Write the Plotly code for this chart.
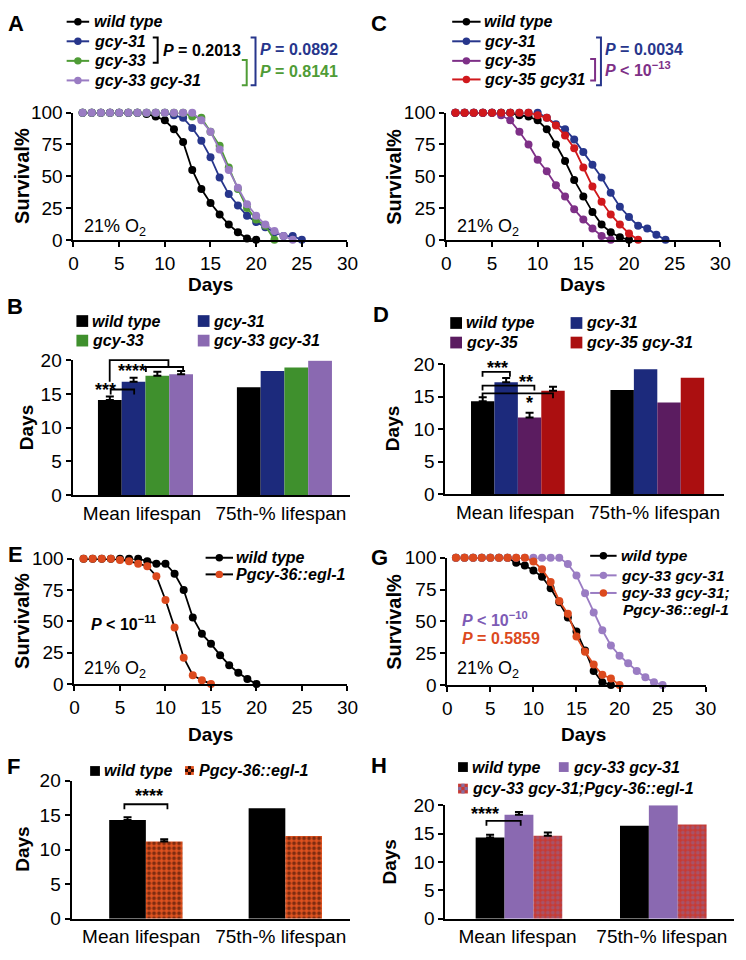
import plotly.graph_objects as go

W, H = 746, 960
FONT = "Arial, 'Liberation Sans', sans-serif"

# ---------------- data ----------------
# Panel A  (survival %, by day)
a_days_wt = [1, 2, 3, 4, 5, 6, 7, 8, 9, 10, 11, 12, 13, 14, 15, 16, 17, 18, 19, 20]
a_wt = [100, 100, 100, 100, 100, 100, 100, 99, 97, 94, 87, 77, 55, 40, 29, 20, 12, 6, 1, 0]
a_days_31 = [1, 2, 3, 4, 5, 6, 7, 8, 9, 10, 11, 12, 13, 14, 15, 16, 17, 18, 19, 20, 21, 22, 23, 24, 25]
a_31 = [100, 100, 100, 100, 100, 100, 100, 100, 100, 100, 98, 96, 88, 78, 65, 49, 36, 27, 19, 14, 10, 6, 3, 3, 0]
a_days_33 = [1, 2, 3, 4, 5, 6, 7, 8, 9, 10, 11, 12, 13, 14, 15, 16, 17, 18, 19, 20, 21, 22]
a_33 = [100, 100, 100, 100, 100, 100, 100, 100, 100, 100, 100, 100, 97, 96, 85, 74, 57, 40, 25, 16, 11, 0]
a_days_dbl = [1, 2, 3, 4, 5, 6, 7, 8, 9, 10, 11, 12, 13, 14, 15, 16, 17, 18, 19, 20, 21, 22, 23, 24]
a_dbl = [100, 100, 100, 100, 100, 100, 100, 100, 100, 100, 100, 100, 100, 94, 85, 71, 55, 41, 28, 19, 12, 7, 3, 0]

# Panel C
c_days_wt = [1, 2, 3, 4, 5, 6, 7, 8, 9, 10, 11, 12, 13, 14, 15, 16, 17, 18, 19, 20]
c_wt = [100, 100, 100, 100, 100, 100, 100, 98, 97, 94, 87, 75, 62, 47, 34, 22, 12, 6, 2, 0]
c_days_31 = [1, 2, 3, 4, 5, 6, 7, 8, 9, 10, 11, 12, 13, 14, 15, 16, 17, 18, 19, 20, 21, 22, 23, 24]
c_31 = [100, 100, 100, 100, 100, 100, 100, 100, 100, 100, 96, 91, 87, 79, 69, 59, 49, 37, 26, 18, 11, 9, 4, 0]
c_days_35 = [1, 2, 3, 4, 5, 6, 7, 8, 9, 10, 11, 12, 13, 14, 15, 16, 17, 18]
c_35 = [100, 100, 100, 100, 100, 98, 94, 85, 75, 63, 54, 43, 34, 24, 16, 9, 3, 0]
c_days_dbl = [1, 2, 3, 4, 5, 6, 7, 8, 9, 10, 11, 12, 13, 14, 15, 16, 17, 18, 19, 20, 21]
c_dbl = [100, 100, 100, 100, 100, 100, 100, 100, 100, 98, 96, 90, 82, 72, 57, 42, 30, 20, 12, 5, 0]

# Panel E
e_days_wt = [1, 2, 3, 4, 5, 6, 7, 8, 9, 10, 11, 12, 13, 14, 15, 16, 17, 18, 19, 20]
e_wt = [100, 100, 100, 100, 100, 100, 100, 98, 96, 96, 88, 75, 53, 40, 32, 23, 15, 9, 4, 0]
e_days_egl = [1, 2, 3, 4, 5, 6, 7, 8, 9, 10, 11, 12, 13, 14, 15]
e_egl = [100, 100, 100, 100, 99, 98, 96, 94, 86, 67, 45, 21, 7, 3, 0]

# Panel G
g_days_wt = [1, 2, 3, 4, 5, 6, 7, 8, 9, 10, 11, 12, 13, 14, 15, 16, 17, 18, 19]
g_wt = [100, 100, 100, 100, 100, 100, 100, 96, 94, 90, 85, 76, 65, 53, 42, 27, 11, 2, 0]
g_days_dbl = [1, 2, 3, 4, 5, 6, 7, 8, 9, 10, 11, 12, 13, 14, 15, 16, 17, 18, 19, 20, 21, 22, 23, 24, 25]
g_dbl = [100, 100, 100, 100, 100, 100, 100, 100, 100, 100, 100, 100, 100, 95, 86, 72, 57, 43, 31, 23, 17, 11, 6, 2, 0]
g_days_egl = [1, 2, 3, 4, 5, 6, 7, 8, 9, 10, 11, 12, 13, 14, 15, 16, 17, 18, 19, 20]
g_egl = [100, 100, 100, 100, 100, 100, 100, 100, 100, 97, 91, 81, 66, 56, 38, 26, 16, 8, 5, 0]

# Bar panels: [mean lifespan, 75th-% lifespan]; error only on the mean
bar_cats = ["Mean lifespan", "75th-% lifespan"]
b_wt, b_31, b_33, b_dbl = [14.1, 16.0], [16.8, 18.4], [17.7, 18.9], [17.9, 19.9]
b_err = [0.5, 0.6, 0.6, 0.5]
d_wt, d_31, d_35, d_dbl = [14.3, 16.0], [17.2, 19.2], [11.8, 14.1], [15.9, 17.9]
d_err = [0.6, 0.65, 0.7, 0.6]
f_wt, f_egl = [14.3, 16.0], [11.2, 12.0]
f_err = [0.4, 0.3]
h_wt, h_dbl, h_egl = [14.3, 16.4], [18.3, 20.0], [14.6, 16.6]
h_err = [0.5, 0.5, 0.6]

surv_ticks_x = [0, 5, 10, 15, 20, 25, 30]
surv_ticks_y = [0, 25, 50, 75, 100]
bar_ticks_y = [0, 5, 10, 15, 20]

# ---------------- colours ----------------
BLACK = "#000000"
BLUE = "#27368c"
GREEN = "#4f9c36"
LAV = "#9a7cc3"
MAG = "#7e3087"
RED = "#d0181c"
ORANGE = "#dc4a1e"
BAR_BLUE = "#1c2a7c"
BAR_GREEN = "#3f902d"
BAR_LAV = "#8a69b1"
BAR_MAG = "#5b1c60"
BAR_RED = "#ab0f10"

# ---------------- helpers ----------------
def P(x):
    return x / W


def Q(y):
    return 1 - y / H


shapes = []
annotations = []


def txt(x, y, s, size=16, color=BLACK, anchor="left", angle=0):
    annotations.append(dict(x=P(x), y=Q(y), xref="paper", yref="paper", text=s,
                            showarrow=False, xanchor=anchor, yanchor="middle",
                            textangle=angle,
                            font=dict(family=FONT, size=size, color=color)))


def seg(x0, y0, x1, y1, color=BLACK, w=2):
    shapes.append(dict(type="line", xref="paper", yref="paper",
                       x0=P(x0), y0=Q(y0), x1=P(x1), y1=Q(y1),
                       line=dict(color=color, width=w)))


def poly(pts, color=BLACK, w=2):
    d = "M " + " L ".join(f"{P(x)},{Q(y)}" for x, y in pts)
    shapes.append(dict(type="path", xref="paper", yref="paper", path=d,
                       line=dict(color=color, width=w)))


def dot(cx, cy, r, color):
    shapes.append(dict(type="circle", xref="paper", yref="paper",
                       x0=P(cx - r), x1=P(cx + r), y0=Q(cy + r), y1=Q(cy - r),
                       fillcolor=color, line=dict(width=0)))


def box(x0, y0, x1, y1, color):
    shapes.append(dict(type="rect", xref="paper", yref="paper",
                       x0=P(x0), x1=P(x1), y0=Q(y1), y1=Q(y0),
                       fillcolor=color, line=dict(width=0)))


def checker_box(x0, y0, x1, y1, bg, fg):
    box(x0, y0, x1, y1, bg)
    step = (x1 - x0) / 3.0
    for i in range(3):
        for j in range(3):
            if (i + j) % 2 == 1:
                box(x0 + i * step, y0 + j * step, x0 + (i + 1) * step, y0 + (j + 1) * step, fg)


def leg_line(x0, x1, y, lcolor, mcolor):
    seg(x0, y, x1, y, lcolor, 2)
    dot((x0 + x1) / 2, y, 3.8, mcolor)


def bracket_right(x, y0, y1, color, arm=5):
    poly([(x - arm, y0), (x, y0), (x, y1), (x - arm, y1)], color, 2)


def bracket_down(x0, x1, y, drop=5):
    poly([(x0, y + drop), (x0, y), (x1, y), (x1, y + drop)], BLACK, 1.8)


def stars(x, y, s):
    txt(x, y + 4, "<b>" + s + "</b>", size=18, anchor="center")


layout = dict(width=W, height=H, margin=dict(l=0, r=0, t=0, b=0),
              paper_bgcolor="white", plot_bgcolor="white", showlegend=False,
              barmode="overlay")

TICKFONT = dict(family=FONT, size=19, color=BLACK)
AX = dict(showline=True, linecolor=BLACK, linewidth=2, ticks="outside",
          ticklen=5, tickwidth=2, tickcolor=BLACK, showgrid=False,
          zeroline=False, tickfont=TICKFONT, fixedrange=True)


def axname(n):
    return ("xaxis", "yaxis") if n == 1 else (f"xaxis{n}", f"yaxis{n}")


def ref(n):
    return ("x", "y") if n == 1 else (f"x{n}", f"y{n}")


def surv_axes(n, x0, x1, y0, y1):
    xa, ya = axname(n)
    xr, yr = ref(n)
    layout[xa] = dict(AX, domain=[P(x0), P(x1)], range=[0, 30],
                      tickvals=surv_ticks_x, anchor=yr)
    layout[ya] = dict(AX, domain=[Q(y1), Q(y0)], range=[0, 100],
                      tickvals=surv_ticks_y, anchor=xr)


def bar_axes(n, x0, x1, y0, y1):
    xa, ya = axname(n)
    xr, yr = ref(n)
    layout[xa] = dict(AX, domain=[P(x0), P(x1)], type="category",
                      categoryorder="array", categoryarray=bar_cats,
                      range=[-0.5, 1.5], ticks="", anchor=yr,
                      tickfont=dict(family=FONT, size=19, color=BLACK))
    layout[ya] = dict(AX, domain=[Q(y1), Q(y0)], range=[0, 20],
                      tickvals=bar_ticks_y, anchor=xr)


traces = []


def curve(n, xs, ys, lcolor, mcolor):
    xr, yr = ref(n)
    traces.append(go.Scatter(x=xs, y=ys, xaxis=xr, yaxis=yr, mode="lines+markers",
                             line=dict(color=lcolor, width=1.8),
                             marker=dict(size=8, color=mcolor, line=dict(width=0)),
                             cliponaxis=False, showlegend=False, hoverinfo="skip"))


def bars(n, ys, err, color, offset, width, pattern=None):
    xr, yr = ref(n)
    marker = dict(color=color, line=dict(width=0))
    if pattern is not None:
        marker["pattern"] = pattern
    # mean lifespan bar, with its upward error bar
    traces.append(go.Bar(x=bar_cats[:1], y=ys[:1], xaxis=xr, yaxis=yr, width=width,
                         offset=offset, marker=marker,
                         error_y=dict(type="data", symmetric=False,
                                      array=[err], arrayminus=[0],
                                      color=BLACK, thickness=2, width=4),
                         showlegend=False, hoverinfo="skip"))
    # 75th-% lifespan bar (no error bar)
    traces.append(go.Bar(x=bar_cats[1:], y=ys[1:], xaxis=xr, yaxis=yr, width=width,
                         offset=offset, marker=marker,
                         showlegend=False, hoverinfo="skip"))


# ---------------- panel A ----------------
surv_axes(1, 70, 350, 105, 235)
curve(1, a_days_wt, a_wt, BLACK, BLACK)
curve(1, a_days_31, a_31, BLUE, BLUE)
curve(1, a_days_33, a_33, GREEN, GREEN)
curve(1, a_days_dbl, a_dbl, LAV, LAV)
txt(1, 14, "<b>A</b>", size=22)
for name, col, yy in [("wild type", BLACK, 12), ("gcy-31", BLUE, 32),
                      ("gcy-33", GREEN, 52), ("gcy-33 gcy-31", LAV, 72)]:
    leg_line(63, 86, yy, col, col)
    txt(89, yy, f"<b><i>{name}</i></b>", size=16)
bracket_right(156, 28, 54, BLACK)
txt(159, 41, "<b><i>P</i> = 0.2013</b>", size=16)
bracket_right(247, 51, 77, GREEN)
bracket_right(256, 28, 77, BLUE)
txt(259, 40, "<b><i>P</i> = 0.0892</b>", size=16, color=BLUE)
txt(259, 63, "<b><i>P</i> = 0.8141</b>", size=16, color=GREEN)
txt(79, 222, "21% O<sub>2</sub>", size=18)
txt(18, 170, "<b>Survival%</b>", size=20, anchor="center", angle=-90)
txt(210, 281, "<b>Days</b>", size=19, anchor="center")

# ---------------- panel C ----------------
surv_axes(3, 451, 731, 105, 235)
curve(3, c_days_wt, c_wt, BLACK, BLACK)
curve(3, c_days_31, c_31, BLUE, BLUE)
curve(3, c_days_35, c_35, MAG, MAG)
curve(3, c_days_dbl, c_dbl, RED, RED)
txt(372, 14, "<b>C</b>", size=22)
for name, col, yy in [("wild type", BLACK, 12), ("gcy-31", BLUE, 32),
                      ("gcy-35", MAG, 52), ("gcy-35 gcy31", RED, 71)]:
    leg_line(457, 486, yy, col, col)
    txt(487, yy, f"<b><i>{name}</i></b>", size=16)
bracket_right(603, 50, 72, MAG)
bracket_right(609, 28, 77, BLUE)
txt(611, 40, "<b><i>P</i> = 0.0034</b>", size=16, color=BLUE)
txt(611, 60, "<b><i>P</i> < 10<sup>\u221213</sup></b>", size=16, color=MAG)
txt(460, 222, "21% O<sub>2</sub>", size=18)
txt(398, 170, "<b>Survival%</b>", size=20, anchor="center", angle=-90)
txt(590, 281, "<b>Days</b>", size=19, anchor="center")

# ---------------- panel B ----------------
bar_axes(2, 69, 353, 358, 496)
bw, b0 = 0.171, -0.317
for i, (vals, col) in enumerate([(b_wt, BLACK), (b_31, BAR_BLUE),
                                  (b_33, BAR_GREEN), (b_dbl, BAR_LAV)]):
    bars(2, vals, b_err[i], col, b0 + i * bw, bw)
txt(0, 303, "<b>B</b>", size=22)
for name, col, x, yy in [("wild type", BLACK, 73, 318), ("gcy-31", BAR_BLUE, 197, 318),
                         ("gcy-33", BAR_GREEN, 73, 338), ("gcy-33 gcy-31", BAR_LAV, 197, 338)]:
    box(x, yy - 6, x + 12, yy + 6, col)
    txt(x + 14, yy, f"<b><i>{name}</i></b>", size=16)
stars(103, 384, "***")
bracket_down(108, 132, 388)
stars(130, 365, "****")
poly([(107, 380), (107, 358), (167, 358), (167, 365)], BLACK, 1.8)
bracket_down(144, 182, 365)
txt(22, 427, "<b>Days</b>", size=19, anchor="center", angle=-90)

# ---------------- panel D ----------------
bar_axes(4, 450, 735, 362, 495)
bw, b0 = 0.168, -0.316
for i, (vals, col) in enumerate([(d_wt, BLACK), (d_31, BAR_BLUE),
                                  (d_35, BAR_MAG), (d_dbl, BAR_RED)]):
    bars(4, vals, d_err[i], col, b0 + i * bw, bw)
txt(374, 311, "<b>D</b>", size=22)
for name, col, x, yy in [("wild type", BLACK, 455, 320), ("gcy-31", BAR_BLUE, 578, 320),
                         ("gcy-35", BAR_MAG, 455, 340), ("gcy-35 gcy-31", BAR_RED, 578, 340)]:
    box(x, yy - 6, x + 12, yy + 6, col)
    txt(x + 14, yy, f"<b><i>{name}</i></b>", size=16)
stars(503, 362, "***")
bracket_down(488, 516, 370)
stars(532, 376, "**")
bracket_down(488, 541, 384)
bracket_down(488, 560, 392)
stars(536, 398, "*")
txt(396, 428, "<b>Days</b>", size=19, anchor="center", angle=-90)

# ---------------- panel E ----------------
surv_axes(5, 71, 350, 561, 689)
curve(5, e_days_wt, e_wt, BLACK, BLACK)
curve(5, e_days_egl, e_egl, BLACK, ORANGE)
txt(1, 557, "<b>E</b>", size=22)
leg_line(205, 233, 560, BLACK, BLACK)
txt(234, 560, "<b><i>wild type</i></b>", size=16)
leg_line(205, 233, 577, BLACK, ORANGE)
txt(234, 577, "<b><i>Pgcy-36::egl-1</i></b>", size=16)
txt(86, 627, "<b><i>P</i> < 10<sup>\u221211</sup></b>", size=16)
txt(79, 674, "21% O<sub>2</sub>", size=18)
txt(18, 625, "<b>Survival%</b>", size=20, anchor="center", angle=-90)
txt(210, 741, "<b>Days</b>", size=19, anchor="center")

# ---------------- panel G ----------------
surv_axes(7, 452, 716, 560, 690)
curve(7, g_days_wt, g_wt, BLACK, BLACK)
curve(7, g_days_dbl, g_dbl, LAV, LAV)
curve(7, g_days_egl, g_egl, ORANGE, ORANGE)
txt(372, 560, "<b>G</b>", size=22)
leg_line(598, 625, 558, BLACK, BLACK)
txt(627, 558, "<b><i>wild type</i></b>", size=15.5)
leg_line(598, 625, 578, LAV, LAV)
txt(627, 578, "<b><i>gcy-33 gcy-31</i></b>", size=15.5)
leg_line(598, 625, 596, LAV, ORANGE)
txt(627, 596, "<b><i>gcy-33 gcy-31;</i></b>", size=15.5)
txt(629, 613, "<b><i>Pgcy-36::egl-1</i></b>", size=15.5)
txt(465, 623, "<b><i>P</i> < 10<sup>\u221210</sup></b>", size=16, color="#7d5bb5")
txt(465, 643, "<b><i>P</i> = 0.5859</b>", size=16, color=ORANGE)
txt(460, 674, "21% O<sub>2</sub>", size=18)
txt(398, 625, "<b>Survival%</b>", size=20, anchor="center", angle=-90)
txt(591, 741, "<b>Days</b>", size=19, anchor="center")

# ---------------- panel F ----------------
bar_axes(6, 68, 353, 788, 929)
bw, b0 = 0.263, -0.23
bars(6, f_wt, f_err[0], BLACK, b0, bw)
bars(6, f_egl, f_err[1], ORANGE, b0 + bw, bw,
     pattern=dict(shape=".", fgcolor="#1a0602", bgcolor="#e2531f",
                  size=5, solidity=0.45))
txt(0, 773, "<b>F</b>", size=22)
box(87, 773, 97, 783, BLACK)
txt(99, 778, "<b><i>wild type</i></b>", size=16)
checker_box(184, 773, 193, 782, "#e2531f", "#2a0a03")
txt(196, 778, "<b><i>Pgcy-36::egl-1</i></b>", size=16)
stars(147, 800, "****")
bracket_down(122, 166, 812)
txt(18, 858, "<b>Days</b>", size=19, anchor="center", angle=-90)

# ---------------- panel H ----------------
bar_axes(8, 450, 745, 813, 929)
bw, b0 = 0.2, -0.29
bars(8, h_wt, h_err[0], BLACK, b0, bw)
bars(8, h_dbl, h_err[1], BAR_LAV, b0 + bw, bw)
bars(8, h_egl, h_err[2], "#c73a33", b0 + 2 * bw, bw,
     pattern=dict(shape=".", fgcolor="#8a6c9e", bgcolor="#c73a33",
                  size=5, solidity=0.45))
txt(372, 772, "<b>H</b>", size=22)
box(463, 769, 473, 779, BLACK)
txt(475, 774, "<b><i>wild type</i></b>", size=16)
box(566, 769, 576, 779, BAR_LAV)
txt(578, 774, "<b><i>gcy-33 gcy-31</i></b>", size=16)
checker_box(463, 791, 473, 801, "#c73a33", "#8a6c9e")
txt(475, 796, "<b><i>gcy-33 gcy-31;Pgcy-36::egl-1</i></b>", size=16)
stars(491, 818, "****")
bracket_down(492, 527, 829)
txt(393, 871, "<b>Days</b>", size=19, anchor="center", angle=-90)

layout["shapes"] = shapes
layout["annotations"] = annotations

fig = go.Figure(data=traces, layout=layout)
fig.write_html("out.html", config={"displayModeBar": False},
               post_script="document.body.style.margin='0';document.body.style.overflow='hidden';")
